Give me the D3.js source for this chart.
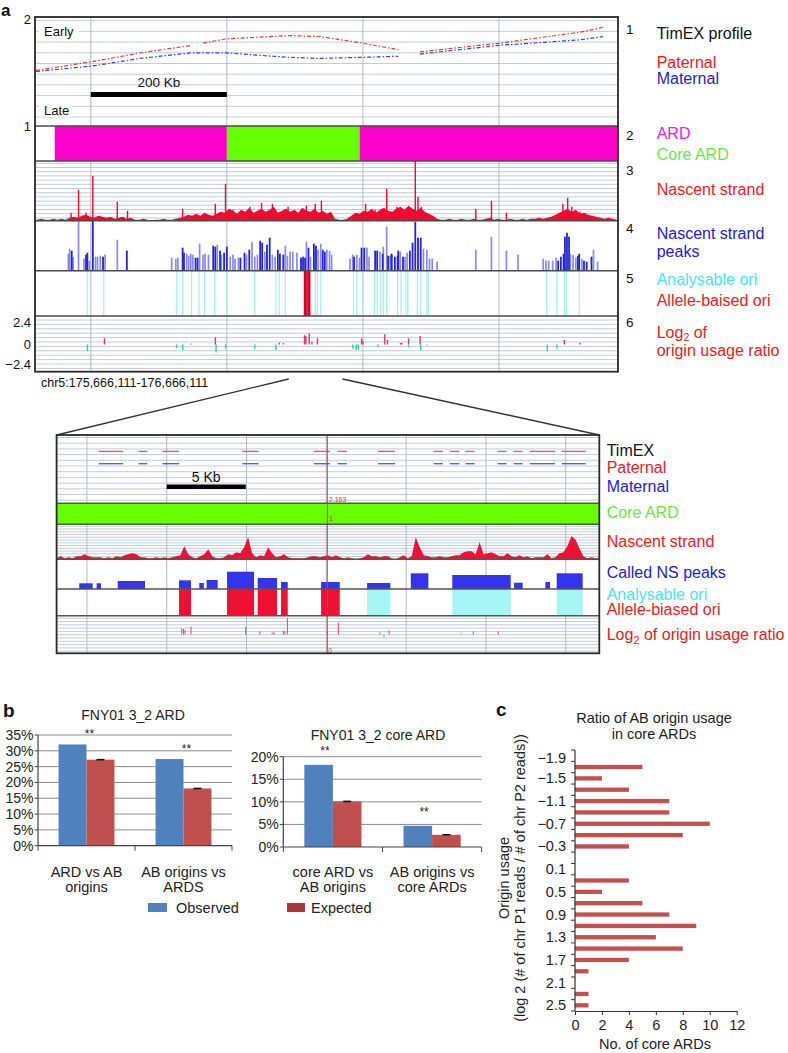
<!DOCTYPE html>
<html><head><meta charset="utf-8">
<script src="https://cdn.jsdelivr.net/npm/d3@7/dist/d3.min.js"></script>
<style>body{margin:0;background:#fff}</style>
</head><body>
<svg id="fig" width="788" height="1053"></svg>
<script>
// ======================= DATA =======================
// Panel a – upper browser window (positions in kb from window start)
const regionLabel = "chr5:175,666,111-176,666,111";
const windowKb = [0, 857];
const gridKb = [82, 282, 482, 682];
const scaleBarKb = [82, 282];
const scaleBarLabel = "200 Kb";
const ardSegments = [[29, 282, "ARD"], [282, 477, "core"], [477, 857, "ARD"]];
// TimEX profiles [kb, value]; null = gap
const timexPaternal = [[1.5,1.51],[84,1.59],[154,1.67],[231,1.74],null,[247,1.76],[282,1.80],[375,1.83],[419,1.82],[482,1.76],[534,1.70],null,[566,1.68],[682,1.76],[801,1.86],[831,1.90],[835,1.91]];
const timexMaternal = [[1.5,1.50],[84,1.55],[154,1.62],[228,1.67],[253,1.67],[282,1.67],[350,1.64],[375,1.63],[419,1.62],[482,1.63],[534,1.64],null,[566,1.66],[682,1.74],[801,1.79],[835,1.82]];
// Nascent strand signal, 6-kb bins
const nsStepKb = 6;
const nsSignal = [1,2,1,1,2,1,2,1,3,
  4,3,5,6,4,3,5,4,3,4,2,3,4,2,3,
  1,1,2,1,0,1,1,2,1,1,2,
  3,4,6,5,7,5,8,6,5,7,
  9,8,12,10,7,11,9,13,8,10,12,9,11,14,8,10,12,9,11,8,13,10,9,12,8,10,7,9,
  2,1,1,2,
  5,8,7,10,9,12,8,11,13,10,9,12,14,11,15,12,10,13,9,7,5,
  2,1,1,2,1,1,2,1,1,2,1,1,2,3,1,2,1,1,2,1,1,2,1,2,2,3,2,3,
  4,6,8,10,12,9,11,7,8,6,5,4,3,
  2,3,2,1];
const nsSpikes = [[53,8],[64,31],[75,8],[85,45],[121,19],[136,10],[217,12],[265,17],[280,37],[291,11],[316,14],[333,18],[349,17],[372,14],[399,15],[412,17],[421,20],[486,17],[500,11],[517,32],[532,14],[550,12],[559,60],[563,24],[568,14],[648,12],[671,20],[693,8],[776,17],[783,23],[789,14],[801,9]];
// Nascent strand peaks [kb, height]
const peaksLight = [[49,17],[51,22],[56,14],[64,50],[72,12],[80,10],[89,14],[92,14],[96,15],[103,16],[121,31],[201,13],[207,12],[210,13],[223,17],[226,15],[229,17],[232,16],[242,27],[247,16],[250,17],[255,16],[268,26],[274,16],[287,14],[291,16],[294,12],[299,13],[311,16],[319,29],[323,14],[327,16],[338,19],[349,16],[353,14],[368,25],[371,15],[375,19],[379,19],[385,18],[399,29],[405,14],[416,21],[420,27],[429,21],[433,20],[436,16],[463,12],[467,16],[473,16],[477,13],[488,23],[491,14],[507,19],[512,24],[517,44],[522,15],[525,16],[537,19],[544,14],[547,18],[571,22],[576,21],[580,12],[584,12],[591,9],[648,21],[671,34],[693,20],[710,16],[747,12],[751,10],[755,10],[761,10],[766,13],[787,17],[791,16],[795,13],[804,12],[821,21],[827,9]];
const peaksDark = [[54,20],[75,16],[77,18],[85,50],[100,14],[135,20],[217,23],[219,18],[236,13],[239,13],[262,25],[265,24],[272,20],[278,18],[282,24],[302,13],[308,18],[315,21],[331,30],[334,28],[341,26],[345,33],[357,21],[360,17],[365,16],[391,13],[394,14],[397,13],[402,23],[410,27],[413,25],[423,21],[426,19],[469,14],[480,23],[484,23],[500,20],[503,20],[511,17],[519,15],[524,17],[529,14],[533,15],[534,20],[541,14],[551,20],[555,28],[559,49],[563,33],[567,33],[769,10],[773,14],[777,17],[779,34],[782,38],[785,34],[798,15],[800,17],[807,10],[811,9],[818,14]];
// Origins
const analysableOri = [77,101,208,217,230,241,249,264,282,323,354,359,368,412,415,420,468,473,482,499,503,508,512,517,533,538,545,548,562,567,576,578,752,767,778,781,800];
const alleleBiasedOri = [[395,405]];
const alleleBiasedCores = [397,403];
// Log2 origin usage ratio [kb, value]
const log2Ratio = [[102,0.66],[229,0.1],[265,0.77],[359,0.19],[365,0.15],[396,1.0],[398,0.9],[403,1.2],[407,0.3],[415,0.66],[480,0.66],[482,0.37],[514,1.1],[518,0.48],[537,0.15],[539,0.2],[549,0.66],[566,0.9],[778,0.48],[801,0.2],
  [77,-0.7],[208,-0.35],[217,-0.6],[266,-0.85],[280,-0.45],[323,-0.45],[354,-0.6],[467,-0.45],[472,-0.6],[475,-0.55],[504,-0.25],[549,-0.25],[567,-0.6],[576,-0.1],[753,-0.75],[767,-0.45]];
const zoomWindowKb = [373, 452];

// Panel a – zoomed window (kb from zoom start)
const zoomKb = [0, 34];
const zoomGridKb = [1.9, 6.9, 11.9, 16.9, 21.9, 26.9, 31.9];
const zoomScaleBarKb = [6.9, 11.85];
const zoomScaleLabel = "5 Kb";
const cursorKb = 16.96;
const cursorLabels = ["2.163", "1", "0"];
const timexZoomSegments = [[2.64,4.17],[5.13,5.68],[6.62,7.68],[11.64,12.66],[16.12,17.12],[17.6,18.18],[20.14,21.2],[23.62,24.2],[24.65,25.23],[25.61,26.18],[27.63,28.18],[28.63,29.19],[29.66,31.23],[31.65,33.14]];
const paternalZoom = 1.76, maternalZoom = 1.58;
const nsZoomStepKb = 0.25;
const nsZoom = [1,3,1,2,1,3,3,5,3,2, 2,2,1,2,1,3,2,4,5,6, 5,2,2,1,1,2,1,2,1,2, 3,4,13,5,2,1,3,5,10,3,
  1,1,2,5,4,7,6,12,22,6, 2,4,3,12,6,2,3,5,2,1, 1,1,1,2,3,3,2,3,4,2, 4,2,1,2,1,0,1,2,5,3,
  3,2,3,3,1,0,2,4,1,3, 22,12,4,3,2,2,3,2,2,3, 4,4,7,8,8,5,17,5,6,7, 5,3,3,6,3,2,4,2,3,1,
  2,2,2,5,1,2,6,7,13,23, 20,11,3,1,2,1,1];
const peaksZoom = [[1.42,2.26,5.7],[2.51,2.78,5.7],[3.83,5.54,8],[7.67,8.42,8.7],[8.94,9.22,6],[9.40,10.09,9],[10.68,12.37,17.3],[12.6,13.81,11],[14.06,14.48,7],[16.57,17.74,7],[19.45,20.91,6],[22.19,23.29,15.7],[24.79,28.45,14],[28.66,29.2,6.3],[30.62,30.91,7],[31.33,32.96,15.7]];
const oriZoomAB = [[7.67,8.42],[10.68,12.37],[12.6,13.81],[14.06,14.48],[16.57,17.74]];
const oriZoomAnalysable = [[19.45,20.91],[24.79,28.45],[31.33,32.96]];
const log2Zoom = [[7.84,0.8],[7.95,0.7],[8.05,0.6],[8.42,1.0],[11.85,1.0],[12.73,0.4],[13.5,0.25],[13.62,0.35],[14.2,0.5],[14.31,0.4],[14.46,2.1],[16.96,0.4],[17.65,1.5],[20.26,0.25],[20.51,-0.4],[20.83,0.5],[25.34,0.15],[26.1,0.4],[27.67,0.4]];

// Panel b
const bLeftTitle = "FNY01 3_2 ARD";
const bLeftCats = [["ARD vs AB","origins"],["AB origins vs","ARDS"]];
const bLeftObserved = [32.0, 27.4];
const bLeftExpected = [27.2, 18.1];
const bLeftTicks = [0,5,10,15,20,25,30,35];
const bRightTitle = "FNY01 3_2 core ARD";
const bRightCats = [["core ARD vs","AB origins"],["AB origins vs","core ARDs"]];
const bRightObserved = [18.2, 4.7];
const bRightExpected = [10.1, 2.7];
const bRightTicks = [0,5,10,15,20];
const bSignif = ["**","**"];
const bLegend = ["Observed","Expected"];

// Panel c
const cBins = ["-1.9","-1.7","-1.5","-1.3","-1.1","-0.9","-0.7","-0.5","-0.3","-0.1","0.1","0.3","0.5","0.7","0.9","1.1","1.3","1.5","1.7","1.9","2.1","2.3","2.5"];
const cCounts = [0,5,2,4,7,7,10,8,4,0,0,4,2,5,7,9,6,8,4,1,0,1,1];
const cXTicks = [0,2,4,6,8,10,12];
const cTitle = ["Ratio of AB origin usage","in core ARDs"];
const cXTitle = "No. of core ARDs";
const cYTitle = ["Origin usage","(log 2 (# of chr P1 reads / # of chr P2 reads))"];

// ======================= DRAWING =======================
const FONT = '"Liberation Sans", Arial, Helvetica, sans-serif';
const svg = d3.select("#fig");
svg.append("rect").attr("width",788).attr("height",1053).attr("fill","#fff");

function label(g, x, y, s, o = {}) {
  const t = g.append("text").attr("x", x).attr("y", y)
    .attr("font-family", FONT).attr("font-size", o.size || 14)
    .attr("fill", o.color || "#111").attr("text-anchor", o.anchor || "start");
  if (o.weight) t.attr("font-weight", o.weight);
  if (s !== null) t.text(s);
  return t;
}
function hGrid(g, x0, x1, t0, t1, first, step, color) {
  d3.range(t0 + first, t1 - 0.6, step).forEach(y =>
    g.append("line").attr("x1", x0).attr("x2", x1).attr("y1", y).attr("y2", y)
      .attr("stroke", color).attr("stroke-width", 1));
}
const RED = "#ee1133", GRID = "#bfcddb", VGRID = "#a9bccc";

// ---------- Panel a upper ----------
const A = {x0: 35, x1: 618, y0: 17, y1: 371.7};
const TA = {timex: [17,126], ard: [126,161], ns: [161,220.7], pk: [220.7,270.7], ori: [270.7,316], log: [316,371.7]};
const xA = d3.scaleLinear().domain(windowKb).range([A.x0, A.x1]);
const gA = svg.append("g");

hGrid(gA, A.x0, A.x1, TA.timex[0], TA.timex[1], 3.7, 10.7, GRID);
hGrid(gA, A.x0, A.x1, TA.ns[0], TA.ns[1], 2.3, 4.2, GRID);
hGrid(gA, A.x0, A.x1, TA.log[0], TA.log[1], 4, 4.4, GRID);
gridKb.forEach(k => gA.append("line").attr("x1", xA(k)).attr("x2", xA(k))
  .attr("y1", A.y0).attr("y2", A.y1).attr("stroke", VGRID).attr("stroke-width", 1));

// Early / Late
gA.append("rect").attr("x", 39).attr("y", 25).attr("width", 40).attr("height", 13).attr("fill", "#fff");
label(gA, 44, 35.5, "Early", {size: 13});
gA.append("rect").attr("x", 39).attr("y", 104).attr("width", 33).attr("height", 13).attr("fill", "#fff");
label(gA, 44, 115, "Late", {size: 13});
// scale bar
gA.append("rect").attr("x", xA(scaleBarKb[0])).attr("y", 92).attr("width", xA(scaleBarKb[1]) - xA(scaleBarKb[0])).attr("height", 5).attr("fill", "#000");
label(gA, (xA(scaleBarKb[0]) + xA(scaleBarKb[1])) / 2, 87, scaleBarLabel, {size: 13.5, anchor: "middle"});

// TimEX
const yT = d3.scaleLinear().domain([1, 2]).range([TA.timex[1], TA.timex[0]]);
const tLine = d3.line().defined(d => d !== null).x(d => xA(d[0])).y(d => yT(d[1]));
gA.append("path").attr("d", tLine(timexMaternal)).attr("fill", "none").attr("stroke", "#3341dd").attr("stroke-width", 1.2).attr("stroke-dasharray", "4,2,1.5,2");
gA.append("path").attr("d", tLine(timexPaternal)).attr("fill", "none").attr("stroke", "#ea3a30").attr("stroke-width", 1.2).attr("stroke-dasharray", "4,2,1.5,2");

// ARD
ardSegments.forEach(s => gA.append("rect").attr("x", xA(s[0])).attr("y", TA.ard[0]).attr("width", xA(s[1]) - xA(s[0]))
  .attr("height", TA.ard[1] - TA.ard[0]).attr("fill", s[2] === "core" ? "#66ff00" : "#ff00cc"));

// Nascent strand
const yN = d3.scaleLinear().domain([0, 60]).range([TA.ns[1], TA.ns[0]]);
gA.append("path").attr("fill", "#ee0a30")
  .attr("d", d3.area().x((d, i) => xA(i * nsStepKb + nsStepKb / 2)).y0(TA.ns[1]).y1(d => yN(d))(nsSignal));
gA.selectAll(".sp").data(nsSpikes).join("rect").attr("x", d => xA(d[0]) - 0.7).attr("width", 1.4)
  .attr("y", d => yN(d[1])).attr("height", d => TA.ns[1] - yN(d[1])).attr("fill", "#ee0a30");

// Peaks
const yP = d3.scaleLinear().domain([0, 50]).range([TA.pk[1], TA.pk[0]]);
gA.selectAll(".pl").data(peaksLight).join("rect").attr("x", d => xA(d[0]) - 0.85).attr("width", 1.7)
  .attr("y", d => yP(d[1])).attr("height", d => TA.pk[1] - yP(d[1])).attr("fill", "#8a8aee");
gA.selectAll(".pd").data(peaksDark).join("rect").attr("x", d => xA(d[0]) - 0.9).attr("width", 1.8)
  .attr("y", d => yP(d[1])).attr("height", d => TA.pk[1] - yP(d[1])).attr("fill", "#2424d8");

// Origins
gA.selectAll(".or").data(analysableOri).join("rect").attr("x", d => xA(d) - 0.6).attr("width", 1.3)
  .attr("y", TA.ori[0]).attr("height", TA.ori[1] - TA.ori[0]).attr("fill", "#a4f2f4");
alleleBiasedOri.forEach(s => gA.append("rect").attr("x", xA(s[0])).attr("width", xA(s[1]) - xA(s[0]))
  .attr("y", TA.ori[0]).attr("height", TA.ori[1] - TA.ori[0]).attr("fill", "#ee1a3c"));
alleleBiasedCores.forEach(k => gA.append("rect").attr("x", xA(k) - 0.6).attr("width", 1.3)
  .attr("y", TA.ori[0]).attr("height", TA.ori[1] - TA.ori[0]).attr("fill", "#b0001e"));

// Log2
const yL = d3.scaleLinear().domain([-2.4, 2.4]).range([367, 322]);
gA.selectAll(".lg").data(log2Ratio).join("rect").attr("x", d => xA(d[0]) - 0.6).attr("width", 1.4)
  .attr("y", d => Math.min(yL(d[1]), yL(0))).attr("height", d => Math.abs(yL(d[1]) - yL(0)))
  .attr("fill", d => d[1] > 0 ? "#e8307c" : "#2fd095");

// separators and frame
[TA.ard[0], TA.ard[1], TA.ns[1], TA.pk[1], TA.ori[1]].forEach(y => gA.append("line").attr("x1", A.x0).attr("x2", A.x1)
  .attr("y1", y).attr("y2", y).attr("stroke", "#4a4a4a").attr("stroke-width", 1.5));
gA.append("rect").attr("x", A.x0).attr("y", A.y0).attr("width", A.x1 - A.x0).attr("height", A.y1 - A.y0)
  .attr("fill", "none").attr("stroke", "#2a2a2a").attr("stroke-width", 1.8);

// left axis labels
label(gA, 31, 24, "2", {size: 13, anchor: "end"});
label(gA, 31, 131, "1", {size: 13, anchor: "end"});
[2.4, 0, -2.4].forEach(v => label(gA, 31, Math.min(yL(v) + 4.5, 368.5), v < 0 ? "\u2212" + Math.abs(v) : String(v), {size: 13, anchor: "end"}));
label(gA, 41, 387, regionLabel, {size: 12.5});
label(svg, 1, 15.5, "a", {size: 17, weight: "bold"});

// right-hand labels
const numY = [34.3, 140, 175, 233.3, 283.3, 326.7];
numY.forEach((y, i) => label(gA, 626, y, String(i + 1), {size: 13.5}));
const RL = 656.7, LS = 16;
label(gA, RL, 39, "TimEX profile", {size: LS});
label(gA, RL, 68.3, "Paternal", {size: LS, color: "#e8201c"});
label(gA, RL, 84.3, "Maternal", {size: LS, color: "#2222cc"});
label(gA, RL, 139, "ARD", {size: LS, color: "#e21fe2"});
label(gA, RL, 160, "Core ARD", {size: LS, color: "#66e842"});
label(gA, RL, 195, "Nascent strand", {size: LS, color: "#e8201c"});
label(gA, RL, 239.3, "Nascent strand", {size: LS, color: "#2222cc"});
label(gA, RL, 257.3, "peaks", {size: LS, color: "#2222cc"});
label(gA, RL, 285, "Analysable ori", {size: LS, color: "#44e6ee"});
label(gA, RL, 305.7, "Allele-baised ori", {size: LS, color: "#e8201c"});
const lg1 = label(gA, RL, 337.5, null, {size: LS, color: "#e8201c"});
lg1.append("tspan").text("Log");
lg1.append("tspan").attr("font-size", 10.5).attr("dy", 3).text("2");
lg1.append("tspan").attr("dy", -3).text(" of");
label(gA, RL, 356, "origin usage ratio", {size: LS, color: "#e8201c"});

// ---------- Panel a lower (zoom) ----------
const B = {x0: 56.6, x1: 599.3, y0: 435, y1: 653.3};
const TB = {timex: [435,503.3], ard: [503.3,524.3], ns: [524.3,559.3], pk: [559.3,589], ori: [589,615.7], log: [615.7,653.3]};
const xB = d3.scaleLinear().domain(zoomKb).range([B.x0, B.x1]);
const gB = svg.append("g");

// connectors
gB.append("line").attr("x1", xA(zoomWindowKb[0])).attr("y1", 379).attr("x2", B.x0).attr("y2", B.y0).attr("stroke", "#333").attr("stroke-width", 1.4);
gB.append("line").attr("x1", xA(zoomWindowKb[1])).attr("y1", 379).attr("x2", B.x1).attr("y2", B.y0).attr("stroke", "#333").attr("stroke-width", 1.4);

hGrid(gB, B.x0, B.x1, TB.timex[0], TB.timex[1], 2.5, 5.7, GRID);
hGrid(gB, B.x0, B.x1, TB.ns[0], TB.ns[1], 2, 2.75, GRID);
hGrid(gB, B.x0, B.x1, TB.log[0], TB.log[1], 2.5, 3.3, GRID);
zoomGridKb.forEach(k => gB.append("line").attr("x1", xB(k)).attr("x2", xB(k))
  .attr("y1", B.y0).attr("y2", B.y1).attr("stroke", VGRID).attr("stroke-width", 1));

const yTB = d3.scaleLinear().domain([1, 2]).range([TB.timex[1], TB.timex[0]]);
gB.selectAll(".tp").data(timexZoomSegments).join("line").attr("x1", d => xB(d[0])).attr("x2", d => xB(d[1]))
  .attr("y1", yTB(paternalZoom)).attr("y2", yTB(paternalZoom)).attr("stroke", "#ee5a5a").attr("stroke-width", 1.4);
gB.selectAll(".tm").data(timexZoomSegments).join("line").attr("x1", d => xB(d[0])).attr("x2", d => xB(d[1]))
  .attr("y1", yTB(maternalZoom)).attr("y2", yTB(maternalZoom)).attr("stroke", "#5860dd").attr("stroke-width", 1.4);
gB.append("rect").attr("x", xB(zoomScaleBarKb[0])).attr("y", 484.5).attr("width", xB(zoomScaleBarKb[1]) - xB(zoomScaleBarKb[0])).attr("height", 4.5).attr("fill", "#000");
label(gB, (xB(zoomScaleBarKb[0]) + xB(zoomScaleBarKb[1])) / 2, 481.5, zoomScaleLabel, {size: 14, anchor: "middle"});

gB.append("rect").attr("x", B.x0).attr("y", TB.ard[0]).attr("width", B.x1 - B.x0).attr("height", TB.ard[1] - TB.ard[0]).attr("fill", "#66ff00");

const yNB = d3.scaleLinear().domain([0, 35]).range([TB.ns[1], TB.ns[0]]);
gB.append("path").attr("fill", RED)
  .attr("d", d3.area().x((d, i) => xB(i * nsZoomStepKb)).y0(TB.ns[1]).y1(d => yNB(d))(nsZoom));

const yPB = d3.scaleLinear().domain([0, 30]).range([TB.pk[1], TB.pk[1] - 30]);
gB.selectAll(".pz").data(peaksZoom).join("rect").attr("x", d => xB(d[0])).attr("width", d => xB(d[1]) - xB(d[0]))
  .attr("y", d => yPB(d[2])).attr("height", d => TB.pk[1] - yPB(d[2])).attr("fill", "#3434ea");
gB.selectAll(".oa").data(oriZoomAB).join("rect").attr("x", d => xB(d[0])).attr("width", d => xB(d[1]) - xB(d[0]))
  .attr("y", TB.ori[0]).attr("height", TB.ori[1] - TB.ori[0]).attr("fill", RED);
gB.selectAll(".on").data(oriZoomAnalysable).join("rect").attr("x", d => xB(d[0])).attr("width", d => xB(d[1]) - xB(d[0]))
  .attr("y", TB.ori[0]).attr("height", TB.ori[1] - TB.ori[0]).attr("fill", "#a6f6f6");

const yLB = d3.scaleLinear().domain([-2.4, 2.4]).range([TB.log[1], TB.log[0]]);
gB.selectAll(".lz").data(log2Zoom).join("rect").attr("x", d => xB(d[0]) - 0.5).attr("width", 1)
  .attr("y", d => Math.min(yLB(d[1]), yLB(0))).attr("height", d => Math.abs(yLB(d[1]) - yLB(0)))
  .attr("fill", d => d[1] > 0 ? "#e8407e" : "#2fd095");

// cursor
gB.append("line").attr("x1", xB(cursorKb)).attr("x2", xB(cursorKb)).attr("y1", B.y0).attr("y2", B.y1).attr("stroke", "#ee3333").attr("stroke-width", 1);
label(gB, xB(cursorKb) + 1.5, 502, cursorLabels[0], {size: 7, color: "#ee3333"});
label(gB, xB(cursorKb) + 2, 521, cursorLabels[1], {size: 7, color: "#cc3333"});
label(gB, xB(cursorKb) + 1, 653, cursorLabels[2], {size: 7, color: "#ee3333"});

[TB.ard[0], TB.ard[1], TB.ns[1], TB.pk[1], TB.ori[1]].forEach(y => gB.append("line").attr("x1", B.x0).attr("x2", B.x1)
  .attr("y1", y).attr("y2", y).attr("stroke", "#555").attr("stroke-width", 1.4));
gB.append("rect").attr("x", B.x0).attr("y", B.y0).attr("width", B.x1 - B.x0).attr("height", B.y1 - B.y0)
  .attr("fill", "none").attr("stroke", "#2a2a2a").attr("stroke-width", 1.8);

const RB = 606.7;
label(gB, RB, 456, "TimEX", {size: LS});
label(gB, RB, 473, "Paternal", {size: LS, color: "#e8201c"});
label(gB, RB, 492, "Maternal", {size: LS, color: "#2222cc"});
label(gB, RB, 518, "Core ARD", {size: LS, color: "#66e842"});
label(gB, RB, 546.7, "Nascent strand", {size: LS, color: "#e8201c"});
label(gB, RB, 578, "Called NS peaks", {size: LS, color: "#2222cc"});
label(gB, RB, 600, "Analysable ori", {size: LS, color: "#44e6ee"});
label(gB, RB, 615, "Allele-biased ori", {size: LS, color: "#e8201c"});
const lg2 = label(gB, RB, 640, null, {size: LS, color: "#e8201c"});
lg2.append("tspan").text("Log");
lg2.append("tspan").attr("font-size", 11).attr("dy", 4).text("2");
lg2.append("tspan").attr("dy", -4).text(" of origin usage ratio");

// ---------- Panel b ----------
const BLUE = "#4f81bd", BRED = "#c0504d";
function barChart(o) {
  const g = svg.append("g");
  const x = d3.scaleBand().domain(d3.range(o.obs.length)).range([o.x0, o.x1]);
  const y = d3.scaleLinear().domain([0, o.max]).range([o.yb, o.yt]);
  o.ticks.forEach(t => {
    if (t > 0) g.append("line").attr("x1", o.x0).attr("x2", o.x1).attr("y1", y(t)).attr("y2", y(t)).attr("stroke", "#8c8c8c").attr("stroke-width", 1);
    g.append("line").attr("x1", o.x0 - 3.5).attr("x2", o.x0).attr("y1", y(t)).attr("y2", y(t)).attr("stroke", "#444");
    label(g, o.x0 - 4.5, y(t) + 5, t + "%", {size: 14, anchor: "end", color: "#222"});
  });
  const bw = x.bandwidth() * 0.288;
  o.obs.forEach((v, i) => {
    const c = x(i) + x.bandwidth() / 2;
    g.append("rect").attr("x", c - bw).attr("width", bw).attr("y", y(v)).attr("height", o.yb - y(v)).attr("fill", BLUE);
    g.append("rect").attr("x", c).attr("width", bw).attr("y", y(o.exp[i])).attr("height", o.yb - y(o.exp[i])).attr("fill", BRED);
    g.append("line").attr("x1", c + bw / 2 - 4).attr("x2", c + bw / 2 + 4).attr("y1", y(o.exp[i])).attr("y2", y(o.exp[i])).attr("stroke", "#111").attr("stroke-width", 1.6);
    label(g, c + o.sigDx, y(Math.max(v, o.exp[i])) - o.sigDy, bSignif[i], {size: 12, anchor: "middle", color: "#222"});
    o.cats[i].forEach((s, j) => label(g, c, 877 + j * 14.5, s, {size: 14.5, anchor: "middle", color: "#222"}));
  });
  g.append("line").attr("x1", o.x0).attr("x2", o.x0).attr("y1", o.yt).attr("y2", o.yb).attr("stroke", "#444").attr("stroke-width", 1.2);
  g.append("line").attr("x1", o.x0).attr("x2", o.x1).attr("y1", o.yb).attr("y2", o.yb).attr("stroke", "#444").attr("stroke-width", 1.2);
  [0, 1, 2].forEach(k => {
    const xx = o.x0 + k * x.bandwidth();
    g.append("line").attr("x1", xx).attr("x2", xx).attr("y1", o.yb).attr("y2", o.yb + 5).attr("stroke", "#444");
  });
  label(g, o.titleX, o.titleY, o.title, {size: 14, anchor: "middle", color: "#222"});
}
barChart({x0: 38, x1: 232, yt: 735, yb: 845.7, max: 35, ticks: bLeftTicks, obs: bLeftObserved, exp: bLeftExpected,
  cats: bLeftCats, title: bLeftTitle, titleX: 133, titleY: 720, sigDx: 3, sigDy: 6});
barChart({x0: 283.3, x1: 481.7, yt: 756.7, yb: 847, max: 20, ticks: bRightTicks, obs: bRightObserved, exp: bRightExpected,
  cats: bRightCats, title: bRightTitle, titleX: 378, titleY: 740, sigDx: -8, sigDy: 10});
label(svg, 3, 717, "b", {size: 19, weight: "bold"});
svg.append("rect").attr("x", 148).attr("y", 903).attr("width", 19).attr("height", 9).attr("fill", BLUE);
label(svg, 176, 912.5, bLegend[0], {size: 14.5, color: "#222"});
svg.append("rect").attr("x", 287).attr("y", 903).attr("width", 18).attr("height", 9).attr("fill", "#a83838");
label(svg, 311, 912.5, bLegend[1], {size: 14.5, color: "#222"});

// ---------- Panel c ----------
const gC = svg.append("g");
const yC = d3.scaleBand().domain(cBins).range([750, 1011]).paddingInner(0.62).paddingOuter(0.31);
const xC = d3.scaleLinear().domain([0, 12]).range([575, 736.7]);
gC.selectAll(".cb").data(cBins).join("rect").attr("x", xC(0)).attr("y", d => yC(d))
  .attr("width", (d, i) => xC(cCounts[i]) - xC(0)).attr("height", yC.bandwidth()).attr("fill", "#c4504e");
const step = yC.step();
d3.range(cBins.length + 1).forEach(k => gC.append("line").attr("x1", 571).attr("x2", 575)
  .attr("y1", 750 + k * step).attr("y2", 750 + k * step).attr("stroke", "#333"));
gC.append("line").attr("x1", 575).attr("x2", 575).attr("y1", 750).attr("y2", 1011).attr("stroke", "#333").attr("stroke-width", 1.2);
cBins.forEach((b, i) => {
  if (i % 2 === 0) label(gC, 566, yC(b) + yC.bandwidth() / 2 + 5 + (i === 0 ? 2 : 0), b.replace("-", "\u2212"), {size: 14.5, anchor: "end", color: "#222"});
});
const ax = gC.append("g").attr("transform", "translate(0,1011)")
  .call(d3.axisBottom(xC).tickValues(cXTicks).tickSize(4).tickPadding(5).tickSizeOuter(0));
ax.selectAll("text").attr("font-family", FONT).attr("font-size", 14.5).attr("fill", "#222");
ax.selectAll("line,path").attr("stroke", "#333");
label(gC, 655, 1049, cXTitle, {size: 14.5, anchor: "middle", color: "#222"});
label(gC, 654, 723, cTitle[0], {size: 14.5, anchor: "middle", color: "#222"});
label(gC, 654, 739, cTitle[1], {size: 14.5, anchor: "middle", color: "#222"});
[509, 525].forEach((xx, i) => label(gC, 0, 0, cYTitle[i], {size: 14.5, anchor: "middle", color: "#222"})
  .attr("transform", `translate(${xx},878) rotate(-90)`));
label(svg, 496, 716, "c", {size: 19, weight: "bold"});
</script>
</body></html>
